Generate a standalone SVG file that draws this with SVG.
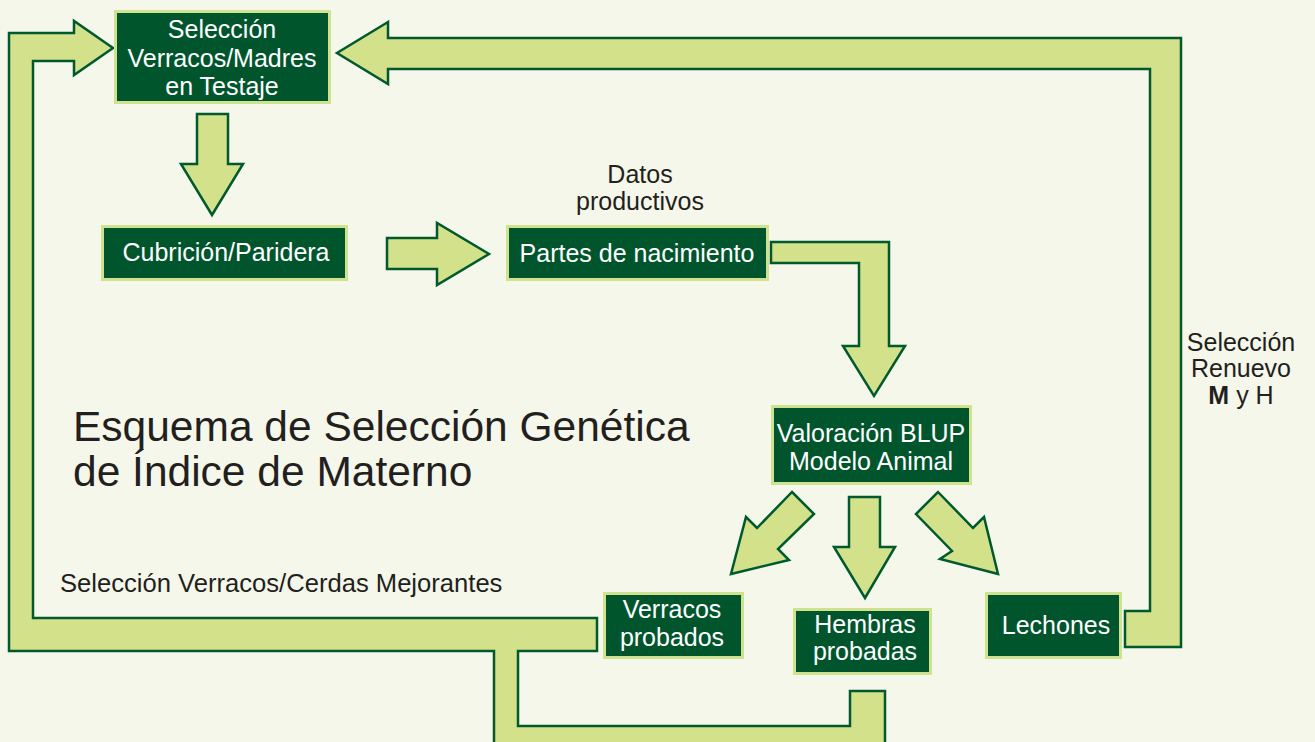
<svg xmlns="http://www.w3.org/2000/svg" width="1315" height="742" viewBox="0 0 1315 742">
<style>
.arrow{fill:#D3E28A;stroke:#005A2E;stroke-width:2.5;stroke-linejoin:miter}
.box{fill:#00552D;stroke:#CFE38E;stroke-width:3}
.nt{font-family:"Liberation Sans",Arial,sans-serif;font-size:25px;fill:#FFFFFF;text-anchor:middle}
.lt{font-family:"Liberation Sans",Arial,sans-serif;font-size:25px;fill:#231F20}
.title{font-family:"Liberation Sans",Arial,sans-serif;font-size:42.5px;fill:#231F20}
</style>
<rect x="0" y="0" width="1315" height="742" fill="#F5F7EA"/>
<g id="connectors">
<polygon class="arrow" points="197,114 228,114 228,164 243,164 212,215 181,164 197,164"/>
<polygon class="arrow" points="387,238 437,238 437,223 489,254 437,285 437,269 387,269"/>
<polygon class="arrow" points="388,22 337,53 388,84 388,69 1150,69 1150,611 1125,611 1125,647 1181,647 1181,38 388,38"/>
<polygon class="arrow" points="597,618 33,618 33,61 74,61 74,75 113,48 74,21 74,33 9,33 9,651 494,651 494,760 885,760 885,691 850,691 850,726 518,726 518,651 597,651"/>
<polygon class="arrow" points="771,242 889,242 889,346 905,346 874,396 843,346 859,346 859,263 771,263"/>
<polygon class="arrow" points="849,497 880,497 880,547 895,547 865,598 834,547 849,547"/>
<polygon class="arrow" points="792,492 814,514 778,549 789,560 731,574 746,517 757,528"/>
<polygon class="arrow" points="938,492 973,528 984,517 998,574 940,559 952,551 916,514"/>
</g>
<g id="node-seleccion-testaje">
<rect class="box" x="115.5" y="11.5" width="214" height="91"/>
<text class="nt" x="222" y="38">Selección</text>
<text class="nt" x="222" y="67">Verracos/Madres</text>
<text class="nt" x="222" y="95">en Testaje</text>
</g>
<g id="node-cubricion">
<rect class="box" x="102.5" y="226.5" width="244" height="53"/>
<text class="nt" x="226" y="261">Cubrición/Paridera</text>
</g>
<g id="node-partes">
<rect class="box" x="507.5" y="226.5" width="260" height="53"/>
<text class="nt" x="637" y="262">Partes de nacimiento</text>
</g>
<g id="node-valoracion">
<rect class="box" x="772.5" y="406.5" width="198" height="77"/>
<text class="nt" x="871" y="442">Valoración BLUP</text>
<text class="nt" x="871" y="470">Modelo Animal</text>
</g>
<g id="node-verracos-probados">
<rect class="box" x="604.5" y="593.5" width="138" height="64"/>
<text class="nt" x="672" y="618">Verracos</text>
<text class="nt" x="672" y="646">probados</text>
</g>
<g id="node-hembras-probadas">
<rect class="box" x="794.5" y="609.5" width="136" height="64"/>
<text class="nt" x="865" y="633">Hembras</text>
<text class="nt" x="865" y="660">probadas</text>
</g>
<g id="node-lechones">
<rect class="box" x="986.5" y="593.5" width="134" height="64"/>
<text class="nt" x="1056" y="634">Lechones</text>
</g>
<g id="labels">
<text class="lt" x="640" y="183" text-anchor="middle">Datos</text>
<text class="lt" x="640" y="210" text-anchor="middle">productivos</text>
<text class="lt" x="1241" y="351" text-anchor="middle">Selección</text>
<text class="lt" x="1241" y="377" text-anchor="middle">Renuevo</text>
<text class="lt" x="1241" y="404" text-anchor="middle"><tspan font-weight="bold">M</tspan> y H</text>
<text class="lt" x="60" y="592" style="font-size:25.6px">Selección Verracos/Cerdas Mejorantes</text>
<text class="title" x="73" y="441">Esquema de Selección Genética</text>
<text class="title" x="73" y="486">de Índice de Materno</text>
</g>
</svg>
